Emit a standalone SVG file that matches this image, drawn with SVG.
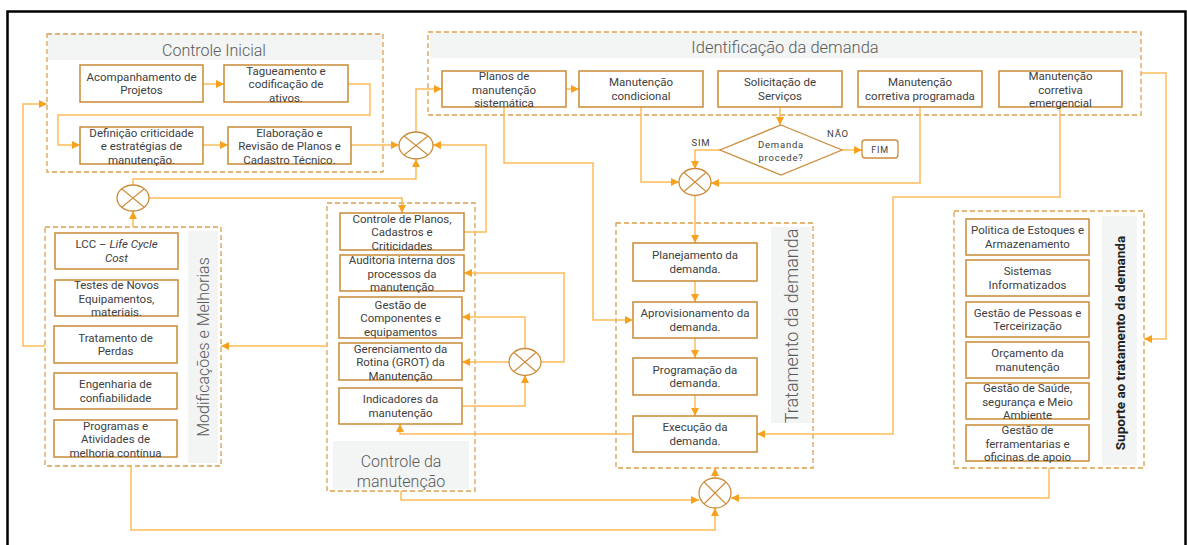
<svg xmlns="http://www.w3.org/2000/svg" width="1187" height="545" viewBox="0 0 1187 545">
<defs>
<marker id="a" markerUnits="userSpaceOnUse" markerWidth="9" markerHeight="9" refX="8" refY="4" orient="auto"><path d="M0,0 L8,4 L0,8 z" fill="#F7A21F"/></marker>
<style>
.box{fill:#fff;stroke:#C98B36;stroke-width:1.5}
.grp{fill:none;stroke:#D9A04E;stroke-width:1.3;stroke-dasharray:5 3}
.hdr{fill:#F3F4F4}
.t{font-family:Roboto,'Liberation Sans',sans-serif;font-size:11.5px;fill:#404040;text-anchor:middle}
.ti{font-family:Roboto,'Liberation Sans',sans-serif;font-size:16px;fill:#5a5a5a;text-anchor:middle;font-weight:300}
.s{font-family:Roboto,'Liberation Sans',sans-serif;font-size:9.5px;fill:#404040;text-anchor:middle;letter-spacing:0.8px}
.c{fill:none;stroke:#FDBB5A;stroke-width:1.5;marker-end:url(#a)}
.x{fill:#fff;stroke:#CB8C3A;stroke-width:1.3}
.xl{stroke:#CB8C3A;stroke-width:1.1}
</style>
</defs>
<rect x="7.5" y="11.5" width="1178" height="545" fill="#fff" stroke="#000" stroke-width="2.5"/>

<!-- groups -->
<g id="grp-controle-inicial">
<rect class="hdr" x="48" y="34" width="334" height="26"/>
<rect class="grp" x="47" y="34" width="336" height="138"/>
<text class="ti" x="214" y="56">Controle Inicial</text>
</g>
<g id="grp-identificacao">
<rect class="hdr" x="430" y="33" width="710" height="25"/>
<rect class="grp" x="428" y="32" width="713" height="83"/>
<text class="ti" x="785" y="53" style="font-size:16.5px">Identificação da demanda</text>
</g>
<g id="grp-modificacoes">
<rect class="hdr" x="188" y="231" width="30" height="232"/>
<rect class="grp" x="45" y="227" width="176" height="239"/>
<text class="ti" transform="translate(209,347) rotate(-90)">Modificações e Melhorias</text>
</g>
<g id="grp-controle-manut">
<rect class="hdr" x="333" y="441" width="136" height="48"/>
<rect class="grp" x="327" y="203" width="148" height="288"/>
<text class="ti" x="401" y="467">Controle da</text>
<text class="ti" x="401" y="487">manutenção</text>
</g>
<g id="grp-tratamento">
<rect class="hdr" x="771" y="227" width="40" height="196"/>
<rect class="grp" x="616" y="223" width="197" height="245"/>
<text class="ti" transform="translate(798,326) rotate(-90)" style="font-size:18px">Tratamento da demanda</text>
</g>
<g id="grp-suporte">
<rect class="hdr" x="1102" y="216" width="35" height="249"/>
<rect class="grp" x="954" y="211" width="190" height="257"/>
<text class="ti" transform="translate(1125,343) rotate(-90)" style="font-size:13.5px;font-weight:bold;fill:#222">Suporte ao tratamento da demanda</text>
</g>

<!-- connectors -->
<g id="connectors">
<path class="c" d="M203,84 H224"/>
<path class="c" d="M348,84 H370 V115 H58 V145 H80"/>
<path class="c" d="M203,145 H228"/>
<path class="c" d="M351,145 H399"/>
<path class="c" d="M416,132 V89 H442"/>
<path class="c" d="M464,232 H486 V145 H433"/>
<path class="c" d="M133,185 V179 H416 V159"/>
<path class="c" d="M149,198 H402 V213"/>
<path class="c" d="M133,227 V211"/>
<path class="c" d="M45,346 H23 V104 H47"/>
<path class="c" d="M327,346 H221"/>
<path class="c" d="M131,466 V530 H715 V508"/>
<path class="c" d="M401,491 V500 H699"/>
<path class="c" d="M1049,468 V498 H731"/>
<path class="c" d="M715,478 V468"/>
<path class="c" d="M462,406 H525 V375"/>
<path class="c" d="M509,362 H462"/>
<path class="c" d="M525,349 V317 H462"/>
<path class="c" d="M541,362 H564 V273 H464"/>
<path class="c" d="M633,434 H400 V424"/>
<path class="c" d="M504,107 V163 H593 V320 H633"/>
<path class="c" d="M641,107 V182 H679"/>
<path class="c" d="M780,107 V125"/>
<path class="c" d="M720,150 H695 V169"/>
<path class="c" d="M842,150 H862"/>
<path class="c" d="M920,107 V183 H711"/>
<path class="c" d="M1060,107 V197 H893 V434 H757"/>
<path class="c" d="M1141,73 H1166 V339 H1144"/>
<path class="c" d="M695,195 V243"/>
<path class="c" d="M695,281 V302"/>
<path class="c" d="M695,338 V358"/>
<path class="c" d="M695,395 V416"/>
<path class="c" d="M566,89 H579"/>
</g>

<!-- junctions -->
<g id="x1"><ellipse class="x" cx="416" cy="145.5" rx="17" ry="13.5"/><path class="xl" d="M404,136 L428,155 M404,155 L428,136"/></g>
<g id="x2"><ellipse class="x" cx="133" cy="198" rx="16" ry="13"/><path class="xl" d="M122,189 L144,207 M122,207 L144,189"/></g>
<g id="x3"><ellipse class="x" cx="715" cy="493" rx="16" ry="15"/><path class="xl" d="M704,482 L726,504 M704,504 L726,482"/></g>
<g id="x4"><ellipse class="x" cx="525" cy="362" rx="16" ry="13.5"/><path class="xl" d="M514,352.5 L536,371.5 M514,371.5 L536,352.5"/></g>
<g id="x5"><ellipse class="x" cx="695" cy="182" rx="16" ry="13.5"/><path class="xl" d="M684,172.5 L706,191.5 M684,191.5 L706,172.5"/></g>

<!-- decision -->
<g id="decisao">
<path d="M781,125 L842,150 L781,175 L720,150 Z" fill="#fff" stroke="#CB8C3A" stroke-width="1.3"/>
<text class="s" x="781" y="148">Demanda</text>
<text class="s" x="781" y="161">procede?</text>
</g>
<text class="s" x="701" y="146">SIM</text>
<text class="s" x="838" y="137">NÃO</text>
<g id="fim"><rect x="862" y="140" width="36" height="18" rx="3" fill="#fff" stroke="#CB8C3A" stroke-width="1.3"/><text class="s" x="880" y="153" style="font-size:9px">FIM</text></g>

<!-- Controle Inicial boxes -->
<g id="acomp"><rect class="box" x="80" y="65" width="123" height="37"/><text class="t" x="141.5" y="80.5">Acompanhamento de</text><text class="t" x="141.5" y="94">Projetos</text></g>
<g id="tag"><rect class="box" x="224" y="65" width="124" height="37"/><text class="t" x="286" y="74.5">Tagueamento e</text><text class="t" x="286" y="88">codificação de</text><text class="t" x="286" y="101.5">ativos.</text></g>
<g id="def"><rect class="box" x="80" y="127" width="123" height="37"/><text class="t" x="141.5" y="136.5">Definição criticidade</text><text class="t" x="141.5" y="150">e estratégias de</text><text class="t" x="141.5" y="163.5">manutenção.</text></g>
<g id="elab"><rect class="box" x="228" y="127" width="123" height="37"/><text class="t" x="289.5" y="136.5">Elaboração e</text><text class="t" x="289.5" y="150">Revisão de Planos e</text><text class="t" x="289.5" y="163.5">Cadastro Técnico.</text></g>

<!-- Identificação boxes -->
<g id="planos"><rect class="box" x="442" y="71" width="124" height="36"/><text class="t" x="504" y="80">Planos de</text><text class="t" x="504" y="93.5">manutenção</text><text class="t" x="504" y="107">sistemática</text></g>
<g id="condicional"><rect class="box" x="579" y="71" width="124" height="36"/><text class="t" x="641" y="86.3">Manutenção</text><text class="t" x="641" y="99.8">condicional</text></g>
<g id="solicitacao"><rect class="box" x="718" y="71" width="124" height="36"/><text class="t" x="780" y="86.3">Solicitação de</text><text class="t" x="780" y="99.8">Serviços</text></g>
<g id="corr-prog"><rect class="box" x="858" y="71" width="124" height="36"/><text class="t" x="920" y="86.3">Manutenção</text><text class="t" x="920" y="99.8">corretiva programada</text></g>
<g id="corr-emerg"><rect class="box" x="999" y="71" width="123" height="36"/><text class="t" x="1060.5" y="80">Manutenção</text><text class="t" x="1060.5" y="93.5">corretiva</text><text class="t" x="1060.5" y="107">emergencial</text></g>

<!-- Controle da manutenção boxes -->
<g id="ctrl-planos"><rect class="box" x="340" y="213" width="124" height="37"/><text class="t" x="402" y="222.5">Controle de Planos,</text><text class="t" x="402" y="236">Cadastros e</text><text class="t" x="402" y="249.5">Criticidades</text></g>
<g id="auditoria"><rect class="box" x="340" y="255" width="124" height="36"/><text class="t" x="402" y="264">Auditoria interna dos</text><text class="t" x="402" y="277.5">processos da</text><text class="t" x="402" y="291">manutenção</text></g>
<g id="gestao-comp"><rect class="box" x="339" y="297" width="123" height="41"/><text class="t" x="400.5" y="308.5">Gestão de</text><text class="t" x="400.5" y="322">Componentes e</text><text class="t" x="400.5" y="335.5">equipamentos</text></g>
<g id="grot"><rect class="box" x="339" y="343" width="123" height="37"/><text class="t" x="400.5" y="352.5">Gerenciamento da</text><text class="t" x="400.5" y="366">Rotina (GROT) da</text><text class="t" x="400.5" y="379.5">Manutenção</text></g>
<g id="indicadores"><rect class="box" x="339" y="388" width="123" height="36"/><text class="t" x="400.5" y="403.3">Indicadores da</text><text class="t" x="400.5" y="416.8">manutenção</text></g>

<!-- Modificações boxes -->
<g id="lcc"><rect class="box" x="55" y="233" width="123" height="36"/><text class="t" x="116.5" y="248">LCC – <tspan font-style="italic">Life Cycle</tspan></text><text class="t" x="116.5" y="261.5" font-style="italic">Cost</text></g>
<g id="testes"><rect class="box" x="55" y="280" width="123" height="36"/><text class="t" x="116.5" y="289">Testes de Novos</text><text class="t" x="116.5" y="302.5">Equipamentos,</text><text class="t" x="116.5" y="316">materiais.</text></g>
<g id="perdas"><rect class="box" x="54" y="326" width="123" height="37"/><text class="t" x="115.5" y="341.5">Tratamento  de</text><text class="t" x="115.5" y="355">Perdas</text></g>
<g id="engenharia"><rect class="box" x="54" y="373" width="123" height="36"/><text class="t" x="115.5" y="388">Engenharia de</text><text class="t" x="115.5" y="401.5">confiabilidade</text></g>
<g id="programas"><rect class="box" x="54" y="420" width="123" height="37"/><text class="t" x="115.5" y="429.5">Programas e</text><text class="t" x="115.5" y="443">Atividades de</text><text class="t" x="115.5" y="456.5">melhoria contínua</text></g>

<!-- Tratamento boxes -->
<g id="planejamento"><rect class="box" x="633" y="243" width="124" height="38"/><text class="t" x="695" y="259">Planejamento da</text><text class="t" x="695" y="272.5">demanda.</text></g>
<g id="aprov"><rect class="box" x="633" y="302" width="124" height="36"/><text class="t" x="695" y="317">Aprovisionamento da</text><text class="t" x="695" y="330.5">demanda.</text></g>
<g id="programacao"><rect class="box" x="633" y="358" width="124" height="37"/><text class="t" x="695" y="373.5">Programação da</text><text class="t" x="695" y="387">demanda.</text></g>
<g id="execucao"><rect class="box" x="633" y="416" width="124" height="36"/><text class="t" x="695" y="431">Execução da</text><text class="t" x="695" y="444.5">demanda.</text></g>

<!-- Suporte boxes -->
<g id="estoques"><rect class="box" x="966" y="219" width="123" height="36"/><text class="t" x="1027.5" y="234">Politica de Estoques e</text><text class="t" x="1027.5" y="247.5">Armazenamento</text></g>
<g id="sistemas"><rect class="box" x="966" y="260" width="123" height="36"/><text class="t" x="1027.5" y="275">Sistemas</text><text class="t" x="1027.5" y="288.5">Informatizados</text></g>
<g id="pessoas"><rect class="box" x="966" y="302" width="123" height="35"/><text class="t" x="1027.5" y="316.5">Gestão de Pessoas e</text><text class="t" x="1027.5" y="330">Terceirização</text></g>
<g id="orcamento"><rect class="box" x="966" y="342" width="123" height="36"/><text class="t" x="1027.5" y="357">Orçamento da</text><text class="t" x="1027.5" y="370.5">manutenção</text></g>
<g id="saude"><rect class="box" x="966" y="383" width="123" height="36"/><text class="t" x="1027.5" y="392">Gestão de Saúde,</text><text class="t" x="1027.5" y="405.5">segurança e Meio</text><text class="t" x="1027.5" y="419">Ambiente</text></g>
<g id="ferramentarias"><rect class="box" x="966" y="425" width="123" height="36"/><text class="t" x="1027.5" y="434">Gestão de</text><text class="t" x="1027.5" y="447.5">ferramentarias e</text><text class="t" x="1027.5" y="461">oficinas de apoio</text></g>
</svg>
